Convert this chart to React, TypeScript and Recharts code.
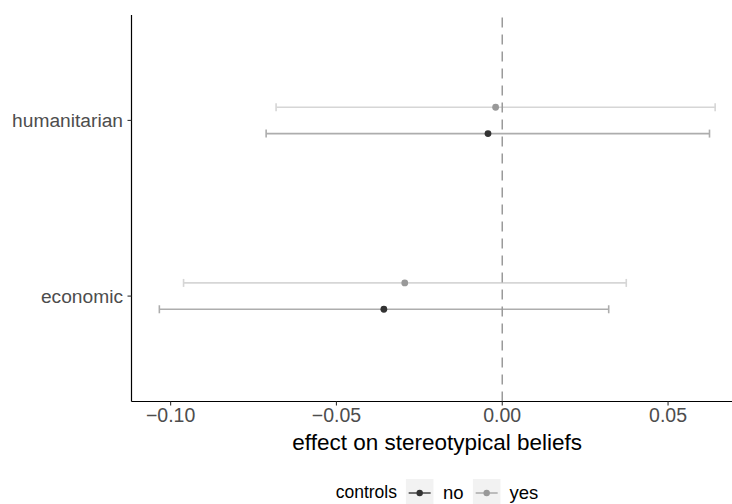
import React from 'react';
import { ScatterChart, Scatter, XAxis, YAxis, ErrorBar, ReferenceLine } from 'recharts';

const categories = ['economic', 'humanitarian'];
const groups = ['no', 'yes'];
const estimatesNo = [-0.0357, -0.0043];
const lowerNo = [-0.1034, -0.0712];
const upperNo = [0.0321, 0.0625];
const estimatesYes = [-0.0294, -0.002];
const lowerYes = [-0.0961, -0.0682];
const upperYes = [0.0374, 0.0642];
const xTicks = [-0.1, -0.05, 0, 0.05];
const xDomain = [-0.1118, 0.0726];
const yDomain = [0.4, 2.6];
const yTicks = [1, 2];
const dodge = 0.075;
const xTitle = 'effect on stereotypical beliefs';
const legendTitle = 'controls';

const pointColors = { no: '#333333', yes: '#999999' };
const ciColors = { no: '#adadad', yes: '#d6d6d6' };
const keyLineColors = { no: '#444444', yes: '#aaaaaa' };

const FONT = '"Liberation Sans", Arial, Helvetica, sans-serif';

function build(est: number[], lo: number[], hi: number[], offset: number) {
  return categories.map((c, i) => ({
    name: c,
    x: est[i],
    y: i + 1 + offset,
    err: [est[i] - lo[i], hi[i] - est[i]],
  }));
}

const noData = build(estimatesNo, lowerNo, upperNo, -dodge);
const yesData = build(estimatesYes, lowerYes, upperYes, dodge);

const fmtX = (v: number) => {
  if (Math.abs(v) < 1e-9) return '0.00';
  return v < 0 ? '\u2212' + Math.abs(v).toFixed(2) : v.toFixed(2);
};

const dot = (color: string) => (props: any) =>
  <circle cx={props.cx} cy={props.cy} r={3.4} fill={color} />;

function LegendKey({ g }: { g: 'no' | 'yes' }) {
  return (
    <svg width={28} height={28} style={{ display: 'block' }}>
      <rect x={0} y={0} width={28} height={28} fill="#f2f2f2" />
      <line x1={3} x2={25} y1={14} y2={14} stroke={keyLineColors[g]} strokeWidth={1.4} />
      <circle cx={14} cy={14} r={3.2} fill={pointColors[g]} />
    </svg>
  );
}

export default function App() {
  return (
    <div style={{ position: 'absolute', left: 0, top: 0, width: 732, height: 504, overflow: 'hidden', background: '#fff', fontFamily: FONT }}>
      <ScatterChart width={760} height={504} margin={{ top: 15, right: 17, bottom: 54, left: 0 }}>
        <XAxis
          type="number"
          dataKey="x"
          domain={xDomain}
          ticks={xTicks}
          interval={0}
          allowDataOverflow
          tickFormatter={fmtX}
          tickSize={4}
          tickMargin={2.5}
          height={48.5}
          axisLine={{ stroke: '#000', strokeWidth: 1.2 }}
          tickLine={{ stroke: '#333', strokeWidth: 1.1 }}
          tick={{ fill: '#4d4d4d', fontSize: 19.5, fontFamily: FONT }}
          label={{ value: xTitle, position: 'insideBottom', offset: 0, fill: '#000', fontSize: 22.5, fontFamily: FONT }}
        />
        <YAxis
          type="number"
          dataKey="y"
          domain={yDomain}
          ticks={yTicks}
          interval={0}
          allowDataOverflow
          tickFormatter={(v: number) => categories[v - 1]}
          width={131.5}
          tickSize={4}
          tickMargin={4.5}
          axisLine={{ stroke: '#000', strokeWidth: 1.2 }}
          tickLine={{ stroke: '#333', strokeWidth: 1.1 }}
          tick={{ fill: '#4d4d4d', fontSize: 19.2, fontFamily: FONT }}
        />
        <Scatter data={noData} isAnimationActive={false} shape={dot(pointColors.no)}>
          <ErrorBar dataKey="err" direction="x" width={4} stroke={ciColors.no} strokeWidth={1.6} isAnimationActive={false} />
        </Scatter>
        <Scatter data={yesData} isAnimationActive={false} shape={dot(pointColors.yes)}>
          <ErrorBar dataKey="err" direction="x" width={4} stroke={ciColors.yes} strokeWidth={1.6} isAnimationActive={false} />
        </Scatter>
        <ReferenceLine x={0} stroke="#9a9a9a" strokeWidth={1.5} strokeDasharray="10 7" />
      </ScatterChart>
      <div style={{ position: 'absolute', left: 437, top: 478.5, transform: 'translateX(-50%)', height: 28, display: 'flex', alignItems: 'center', whiteSpace: 'nowrap', color: '#000' }}>
        <span style={{ fontSize: 17.5, marginRight: 9 }}>{legendTitle}</span>
        <LegendKey g="no" />
        <span style={{ fontSize: 18.5, marginLeft: 9, marginRight: 9 }}>{groups[0]}</span>
        <LegendKey g="yes" />
        <span style={{ fontSize: 18.5, marginLeft: 9 }}>{groups[1]}</span>
      </div>
    </div>
  );
}
